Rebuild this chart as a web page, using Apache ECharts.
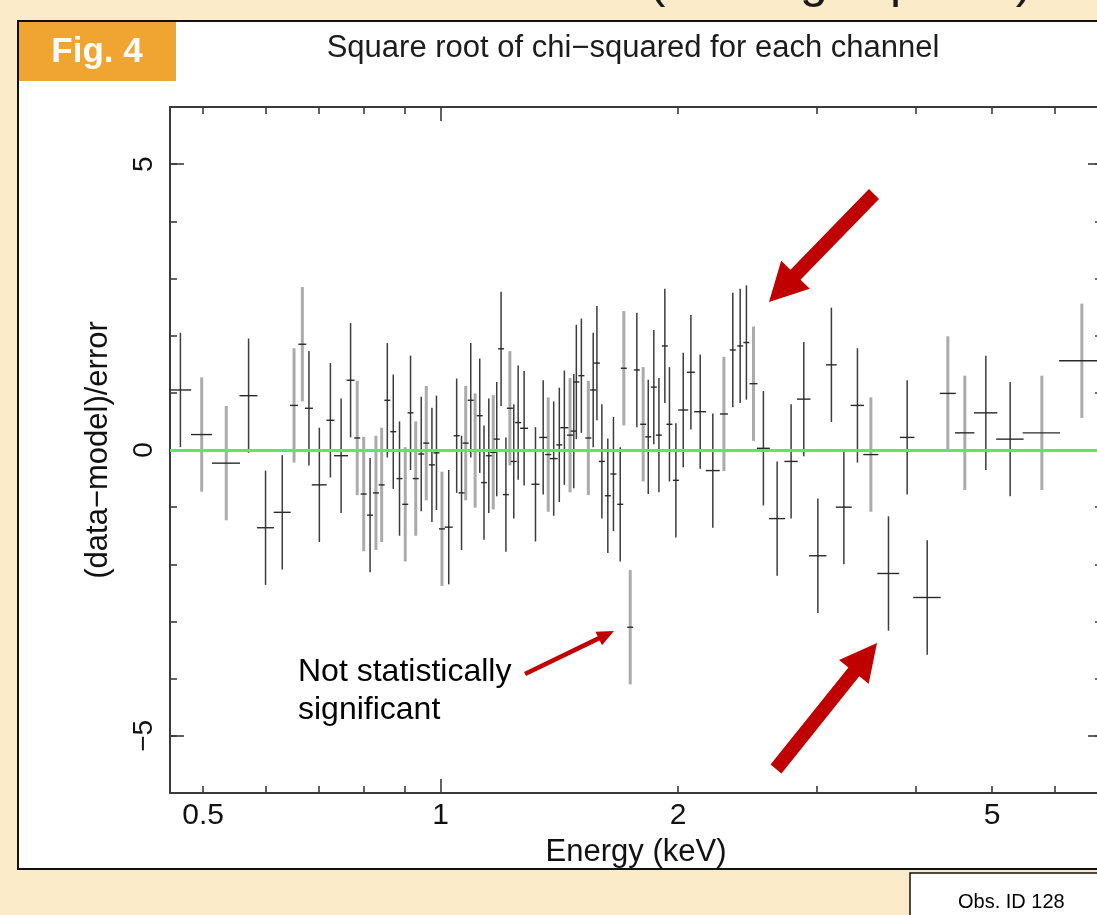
<!DOCTYPE html>
<html>
<head>
<meta charset="utf-8">
<script src="https://cdn.jsdelivr.net/npm/echarts@6.0.0/dist/echarts.min.js"></script>
<style>
html,body{margin:0;padding:0;background:#FCEBC8;}
#chart{width:1097px;height:915px;}
</style>
</head>
<body>
<div id="chart"></div>
<script>
// ---------------- data ----------------
// residuals in units of sigma, so every vertical error bar is +/- 1
const residualSigma = 1;

// dataset drawn with dark error bars
const blackEnergy = [0.468,0.571,0.600,0.630,0.681,0.702,0.725,0.748,0.769,0.814,0.856,0.871,0.887,0.916,0.945,0.975,0.988,
  1.024,1.048,1.063,1.092,1.121,1.135,1.151,1.178,1.193,1.210,1.238,1.254,1.276,1.319,1.349,1.391,1.414,1.435,1.475,1.486,1.508,
  1.561,1.578,1.601,1.629,1.656,1.689,1.773,1.833,1.863,1.891,1.924,1.950,1.987,2.030,2.076,2.133,2.213,2.346,2.397,2.441,
  2.565,2.670,2.781,2.886,3.007,3.128,3.244,3.375,3.695,3.902,4.137,4.909,5.270];
const blackHalfWidth = [0.0150,0.0150,0.0149,0.0156,0.0080,0.0154,0.0085,0.0153,0.0090,0.0071,0.0075,0.0076,0.0078,0.0080,0.0083,0.0085,0.0087,
  0.0120,0.0092,0.0093,0.0096,0.0098,0.0099,0.0101,0.0103,0.0104,0.0106,0.0108,0.0110,0.0149,0.0154,0.0157,0.0162,0.0124,0.0168,0.0129,0.0130,0.0132,
  0.0137,0.0138,0.0140,0.0143,0.0145,0.0148,0.0155,0.0160,0.0163,0.0166,0.0168,0.0171,0.0174,0.0296,0.0242,0.0373,0.0452,0.0205,0.0210,0.0214,
  0.0487,0.0623,0.0544,0.0564,0.0763,0.0484,0.0757,0.0660,0.1186,0.0831,0.1654,0.1676,0.2107];
const blackResidual = [1.05,0.95,-1.36,-1.09,0.73,-0.61,0.52,-0.10,1.22,-1.14,0.87,0.32,-0.50,0.65,-0.07,-0.26,-0.05,
  -1.35,0.25,-0.75,0.87,0.60,-0.57,-0.10,0.19,1.77,-0.78,-0.20,0.48,0.38,-0.60,0.22,-0.15,0.09,0.39,0.33,1.19,1.30,
  1.05,1.52,-0.20,-0.80,-0.42,-0.95,1.40,0.23,1.10,0.26,1.82,0.45,-0.53,0.70,1.36,0.67,-0.36,1.75,1.82,1.88,
  0.03,-1.20,-0.20,0.89,-1.85,1.49,-1.00,0.78,-2.16,0.22,-2.58,0.65,0.19];

// dataset drawn with light grey vertical bars
const grayEnergy = [0.498,0.535,0.652,0.668,0.784,0.799,0.828,0.842,0.902,0.930,0.959,1.004,1.076,1.106,1.166,1.224,1.369,1.459,
  1.539,1.707,1.739,1.806,2.286,2.492,3.510,4.394,4.617,5.781,6.497];
const grayHalfWidth = [0.0153,0.0219,0.0076,0.0078,0.0069,0.0070,0.0073,0.0074,0.0079,0.0081,0.0084,0.0088,0.0094,0.0097,0.0102,0.0107,0.0120,0.0128,
  0.0135,0.0149,0.0152,0.0158,0.0267,0.0291,0.0768,0.1026,0.1307,0.3155,0.4171];
const grayResidual = [0.27,-0.23,0.78,1.85,0.21,-0.77,-0.75,-0.61,-0.95,-0.50,0.12,-1.38,0.12,-0.01,-0.04,0.73,-0.08,0.26,
  0.21,1.43,-3.10,0.45,0.63,1.16,-0.08,0.99,0.30,0.30,1.56];

// axes
const xMin = 0.454, xMax = 6.89;
const xMinorTicks = [0.5,0.6,0.7,0.8,0.9,2,3,4,5,6];
const xMajorTicks = [1];
const xTickLabels = [0.5,1,2,5];
const yMin = -6, yMax = 6;
const yMinorTicks = [-5,-4,-3,-2,-1,0,1,2,3,4,5];
const yMajorTicks = [-5,0,5];
const yTickLabels = [-5,0,5];

const titleText = 'Square root of chi\u2212squared for each channel';
const xName = 'Energy (keV)';
const yName = '(data\u2212model)/error';

// ---------------- chart ----------------
const FONT = "'Liberation Sans', Arial, Helvetica, sans-serif";
const AX = '#3a3a3a';

function rows(E, W, R) { return E.map((e, i) => [e, R[i], W[i], residualSigma]); }

function errRender(vColor, vWidth) {
  return function (params, api) {
    const e = api.value(0), v = api.value(1), w = api.value(2), s = api.value(3);
    const l = api.coord([e - w, v]), r = api.coord([e + w, v]);
    const t = api.coord([e, v + s]), b = api.coord([e, v - s]);
    return { type: 'group', children: [
      { type: 'line', shape: { x1: t[0], y1: t[1], x2: b[0], y2: b[1] }, style: { stroke: vColor, lineWidth: vWidth } },
      { type: 'line', shape: { x1: l[0], y1: l[1], x2: r[0], y2: r[1] }, style: { stroke: '#2a2a2a', lineWidth: 1.4 } }
    ]};
  };
}

function xAxisDef(pos, ticks, len, showLine, labels) {
  return {
    type: 'log', logBase: 10, min: xMin, max: xMax, position: pos,
    splitLine: { show: false },
    axisLine: { show: showLine, onZero: false, lineStyle: { color: AX, width: 2 } },
    axisTick: { show: true, inside: true, length: len, customValues: ticks, lineStyle: { color: AX, width: 1.6 } },
    axisLabel: labels ? {
      show: true, customValues: xTickLabels, margin: 8, color: '#111', fontSize: 30, fontFamily: FONT,
      formatter: v => String(+(+v).toPrecision(3))
    } : { show: false },
    name: labels ? xName : '', nameLocation: 'middle', nameGap: 44,
    nameTextStyle: { fontSize: 31, color: '#111', fontFamily: FONT }
  };
}
function yAxisDef(pos, ticks, len, showLine, labels) {
  return {
    type: 'value', min: yMin, max: yMax, position: pos,
    splitLine: { show: false },
    axisLine: { show: showLine, onZero: false, lineStyle: { color: AX, width: 2 } },
    axisTick: { show: true, inside: true, length: len, customValues: ticks, lineStyle: { color: AX, width: 1.6 } },
    axisLabel: labels ? {
      show: true, customValues: yTickLabels, rotate: 90, margin: 12, color: '#111', fontSize: 28, fontFamily: FONT,
      formatter: v => (v < 0 ? '\u2212' + Math.abs(v) : String(v))
    } : { show: false },
    name: labels ? yName : '', nameLocation: 'middle', nameGap: 56, nameRotate: 90,
    nameTextStyle: { fontSize: 31, color: '#111', fontFamily: FONT }
  };
}

function arrowPts(tail, tip, sw, hl, hw) {
  const dx = tip[0] - tail[0], dy = tip[1] - tail[1];
  const L = Math.hypot(dx, dy), ux = dx / L, uy = dy / L, nx = -uy, ny = ux;
  const bx = tip[0] - ux * hl, by = tip[1] - uy * hl;
  return [
    [tail[0] + nx * sw / 2, tail[1] + ny * sw / 2],
    [bx + nx * sw / 2, by + ny * sw / 2],
    [bx + nx * hw / 2, by + ny * hw / 2],
    tip,
    [bx - nx * hw / 2, by - ny * hw / 2],
    [bx - nx * sw / 2, by - ny * sw / 2],
    [tail[0] - nx * sw / 2, tail[1] - ny * sw / 2]
  ];
}
const RED = '#C00000';

const chart = echarts.init(document.getElementById('chart'), null, { renderer: 'canvas' });
chart.setOption({
  backgroundColor: 'transparent',
  animation: false,
  grid: { left: 170, top: 107, width: 932, height: 686, containLabel: false, outerBoundsMode: 'none' },
  xAxis: [
    xAxisDef('bottom', xMinorTicks, 7, true, true),
    xAxisDef('bottom', xMajorTicks, 14, false, false),
    xAxisDef('top', xMinorTicks, 7, true, false),
    xAxisDef('top', xMajorTicks, 14, false, false)
  ],
  yAxis: [
    yAxisDef('left', yMinorTicks, 7, true, true),
    yAxisDef('left', yMajorTicks, 14, false, false),
    yAxisDef('right', yMinorTicks, 7, true, false),
    yAxisDef('right', yMajorTicks, 14, false, false)
  ],
  series: [
    { type: 'custom', name: 'grey', xAxisIndex: 0, yAxisIndex: 0, z: 2, clip: true,
      encode: { x: 0, y: 1 }, data: rows(grayEnergy, grayHalfWidth, grayResidual),
      renderItem: errRender('#ababab', 3) },
    { type: 'custom', name: 'black', xAxisIndex: 0, yAxisIndex: 0, z: 3, clip: true,
      encode: { x: 0, y: 1 }, data: rows(blackEnergy, blackHalfWidth, blackResidual),
      renderItem: errRender('#3c3c3c', 1.5) },
    { type: 'line', name: 'zero', xAxisIndex: 0, yAxisIndex: 0, z: 5, data: [],
      markLine: { silent: true, symbol: ['none', 'none'], label: { show: false },
        lineStyle: { color: '#5EE65E', width: 3, type: 'solid' }, data: [{ yAxis: 0 }] } }
  ],
  graphic: [
    { type: 'rect', z: -100, shape: { x: 18, y: 21, width: 1200, height: 848 },
      style: { fill: '#ffffff', stroke: '#111', lineWidth: 2 } },
    { type: 'rect', z: -99, shape: { x: 19, y: 22, width: 157, height: 59 }, style: { fill: '#F0A431' } },
    { type: 'text', z: 100, x: 97, y: 52, style: { text: 'Fig. 4', fill: '#fff', font: 'bold 35px ' + FONT, align: 'center', verticalAlign: 'middle' } },
    { type: 'text', z: 100, x: 633, y: 48, style: { text: titleText, fill: '#1c1c1c', font: '31px ' + FONT, align: 'center', verticalAlign: 'middle' } },
    // clipped heading above the panel (only descenders visible)
    { type: 'text', z: 100, x: 657, y: -17, style: { text: '(', fill: '#1a1a1a', font: '50px ' + FONT, align: 'center', verticalAlign: 'middle' } },
    { type: 'text', z: 100, x: 814, y: -17, style: { text: 'g', fill: '#1a1a1a', font: '50px ' + FONT, align: 'center', verticalAlign: 'middle' } },
    { type: 'text', z: 100, x: 904, y: -17, style: { text: 'p', fill: '#1a1a1a', font: '50px ' + FONT, align: 'center', verticalAlign: 'middle' } },
    { type: 'text', z: 100, x: 1024, y: -17, style: { text: ')', fill: '#1a1a1a', font: '50px ' + FONT, align: 'center', verticalAlign: 'middle' } },
    // annotation
    { type: 'text', z: 100, x: 298, y: 672, style: { text: 'Not statistically', fill: '#000', font: '32px ' + FONT, align: 'left', verticalAlign: 'middle' } },
    { type: 'text', z: 100, x: 298, y: 710, style: { text: 'significant', fill: '#000', font: '32px ' + FONT, align: 'left', verticalAlign: 'middle' } },
    { type: 'polygon', z: 100, shape: { points: arrowPts([525, 674], [614, 631], 4.5, 17, 15) }, style: { fill: RED } },
    { type: 'polygon', z: 100, shape: { points: arrowPts([874, 194], [769, 302], 14, 38, 40) }, style: { fill: RED } },
    { type: 'polygon', z: 100, shape: { points: arrowPts([776, 769], [877, 643], 14, 37, 38) }, style: { fill: RED } },
    // observation box
    { type: 'rect', z: 100, shape: { x: 910, y: 873, width: 300, height: 80 }, style: { fill: '#fff', stroke: '#111', lineWidth: 1.5 } },
    { type: 'text', z: 101, x: 958, y: 902, style: { text: 'Obs. ID 128', fill: '#000', font: '20px ' + FONT, align: 'left', verticalAlign: 'middle' } }
  ]
});
</script>
</body>
</html>
